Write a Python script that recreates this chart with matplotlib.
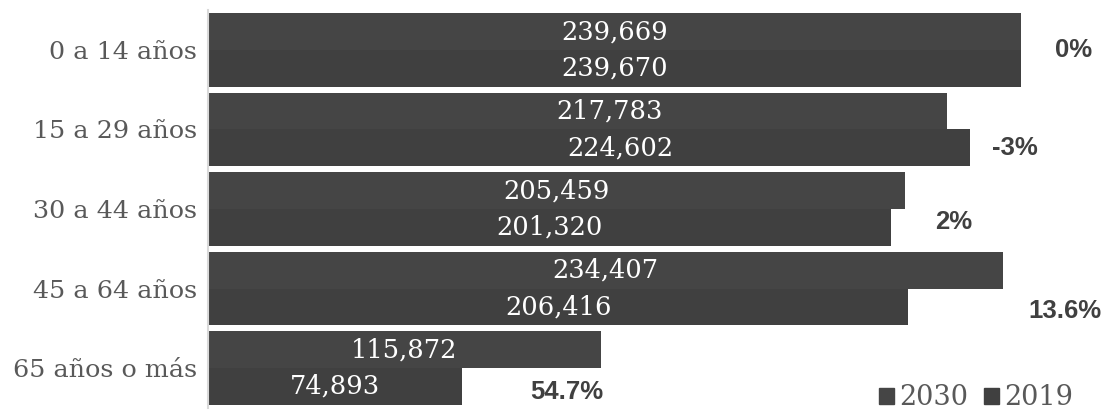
import matplotlib
matplotlib.use('Agg')
import matplotlib.pyplot as plt
from matplotlib.patches import Patch
import numpy as np

# data
categories = ['0 a 14 años', '15 a 29 años', '30 a 44 años', '45 a 64 años', '65 años o más']
pop_2030 = [239669, 217783, 205459, 234407, 115872]
pop_2019 = [239670, 224602, 201320, 206416, 74893]
pct_labels = ['0%', '-3%', '2%', '13.6%', '54.7%']

# label placement (data units)
pct_x = [249700, 231100, 214300, 241700, 94900]
pct_y = [0.0, 1.23, 2.16, 3.28, 4.30]
value_dx = [0, 9400, 0, 0, 0]

color_2030 = '#454545'
color_2019 = '#404040'
text_gray = '#595959'
serif = 'DejaVu Serif'

fig = plt.figure(figsize=(11.08, 4.19), dpi=100)
ax = fig.add_axes([208 / 1108, 11.25 / 419, 900 / 1108, 397.5 / 419])

y = np.arange(len(categories))
h = 0.465
bars_2030 = ax.barh(y - h / 2, pop_2030, height=h, color=color_2030, label='2030')
bars_2019 = ax.barh(y + h / 2, pop_2019, height=h, color=color_2019, label='2019')

for bars, vals in ((bars_2030, pop_2030), (bars_2019, pop_2019)):
    for i, (b, v) in enumerate(zip(bars, vals)):
        ax.text(v / 2 + value_dx[i], b.get_y() + b.get_height() / 2, f'{v:,}',
                ha='center', va='center', color='white', fontsize=18.5, family=serif)

for lab, px, py in zip(pct_labels, pct_x, pct_y):
    ax.text(px, py, lab, ha='left', va='center', color='#404040',
            fontsize=18.5, fontweight='bold', family='Liberation Sans')

ax.set_xlim(0, 265300)
ax.set_ylim(4.5, -0.5)
ax.set_yticks(y)
ax.set_yticklabels(categories, family=serif, fontsize=18.3, color=text_gray)
ax.tick_params(axis='y', length=0, pad=8)
ax.set_xticks([])
for s in ['top', 'right', 'bottom']:
    ax.spines[s].set_visible(False)
ax.spines['left'].set_color('#d9d9d9')
ax.spines['left'].set_linewidth(1.5)

handles = [Patch(color=color_2030), Patch(color=color_2019)]
leg = fig.legend(handles, ['2030', '2019'], loc='lower right', ncol=2,
                 bbox_to_anchor=(1098 / 1108, -0.04), frameon=False,
                 handlelength=0.55, handleheight=0.55, handletextpad=0.2,
                 columnspacing=0.6, prop={'family': serif, 'size': 19.5})
for t in leg.get_texts():
    t.set_color(text_gray)

fig.savefig('out.png', dpi=100)
